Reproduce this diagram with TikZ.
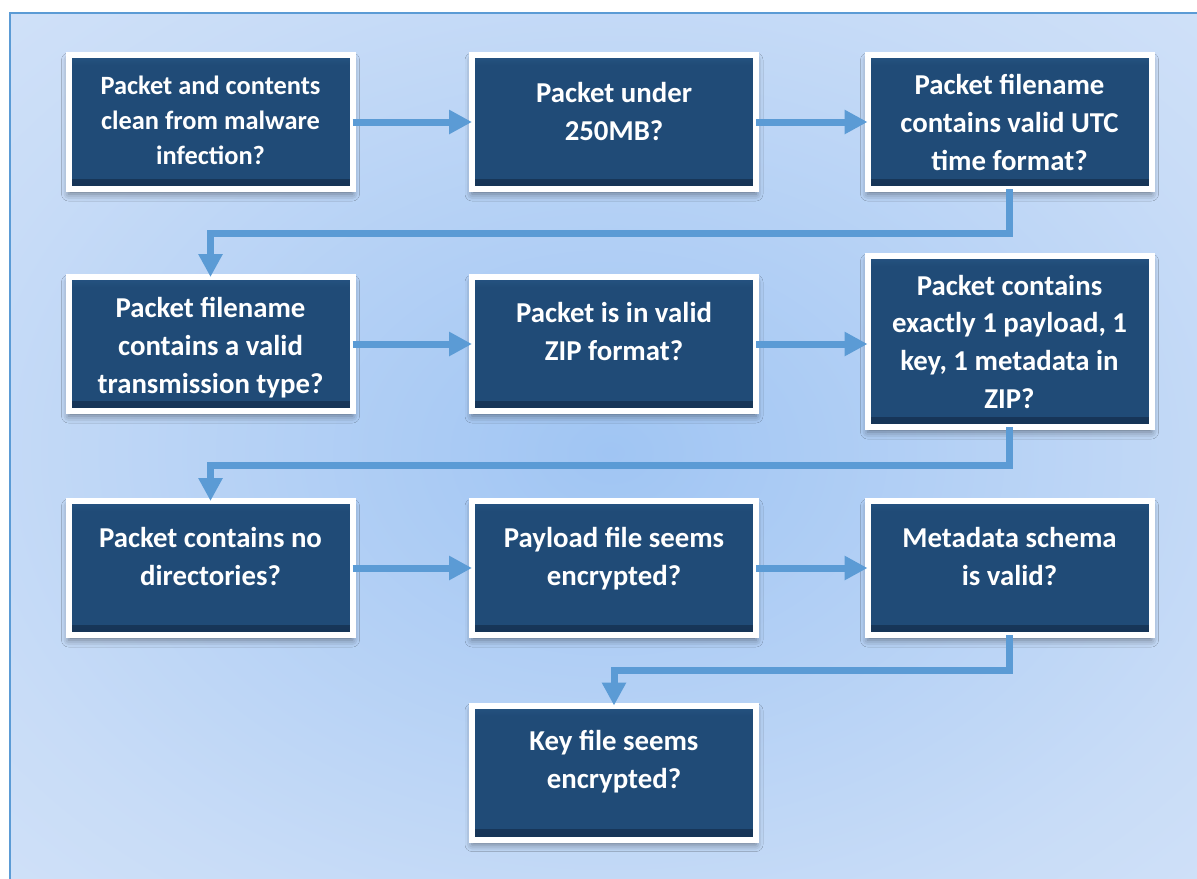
\documentclass[tikz,border=0pt]{standalone}
\usepackage{fontspec}
\setmainfont{Carlito}
\usetikzlibrary{arrows.meta,shadows.blur}

\definecolor{framecol}{RGB}{91,155,213}
\definecolor{flowcol}{RGB}{91,155,213}
\definecolor{boxfill}{RGB}{32,75,119}
\definecolor{boxtop}{RGB}{38,84,130}
\definecolor{boxedge}{RGB}{22,52,86}
\definecolor{bgmid}{RGB}{160,197,243}
\definecolor{bgring}{RGB}{200,220,247}
\definecolor{bgedge}{RGB}{222,233,250}

% soft blue glow behind the chart
\pgfdeclareradialshading{bgglow}{\pgfpoint{0bp}{0bp}}{%
  color(0bp)=(bgmid); color(28bp)=(bgring); color(50bp)=(bgedge); color(75bp)=(bgedge)}

\tikzset{
  stepbox/.style={rectangle, draw=white, line width=3pt, fill=boxfill,
    outer sep=0pt, inner sep=0pt,
    minimum width=142pt, minimum height=67pt,
    blur shadow={shadow xshift=0pt, shadow yshift=-2.5pt,
      shadow blur radius=3.5pt, shadow opacity=45},
    path picture={
      \shade[top color=boxfill, bottom color=boxedge]
        ([yshift=5pt]path picture bounding box.south west)
        rectangle (path picture bounding box.south east);
      \shade[top color=boxtop, bottom color=boxfill]
        (path picture bounding box.north west)
        rectangle ([yshift=-5pt]path picture bounding box.north east);
    }},
  steptext/.style={text=white, align=center, anchor=base, inner sep=0pt,
    font=\bfseries\fontsize{14.4}{18.8}\selectfont},
  flow/.style={draw=flowcol, line width=3.5pt,
    -{Triangle[length=11.5pt,width=11.5pt]}},
}

\begin{document}
\begin{tikzpicture}[x=0.5pt,y=-0.5pt]
\useasboundingbox (0,0) rectangle (1197,878);
\fill[white] (0,0) rectangle (1197,878);
\clip (0,0) rectangle (1197,878);

% framed background panel
\shade[shading=bgglow] (10,13) rectangle (1210,892);
\draw[framecol, line width=1.2pt] (10,13) rectangle (1210,892);

% process steps
\node[stepbox] (b1) at (210.5,122) {};
\node[stepbox] (b2) at (614,122) {};
\node[stepbox] (b3) at (1009.5,122) {};
\node[stepbox] (b4) at (210.5,344) {};
\node[stepbox] (b5) at (614,344) {};
\node[stepbox, minimum height=85.5pt] (b6) at (1009.5,341.5) {};
\node[stepbox] (b7) at (210.5,568) {};
\node[stepbox] (b8) at (614,568) {};
\node[stepbox] (b9) at (1009.5,568) {};
\node[stepbox] (b10) at (614,772.5) {};

% step captions (placed by the baseline of their last line)
\node[steptext, font=\bfseries\fontsize{13.2}{17.5}\selectfont] (t1) at (210.5,164)
  {Packet and contents\\clean from malware\\infection?};
\node[steptext] (t2) at (614,140) {Packet under\\250MB?};
\node[steptext] (t3) at (1009.5,170)
  {Packet filename\\contains valid UTC\\time format?};
\node[steptext] (t4) at (210.5,393)
  {Packet filename\\contains a valid\\transmission type?};
\node[steptext] (t5) at (614,360) {Packet is in valid\\ZIP format?};
\node[steptext] (t6) at (1009.5,408)
  {Packet contains\\exactly 1 payload, 1\\key, 1 metadata in\\ZIP?};
\node[steptext] (t7) at (210.5,585) {Packet contains no\\directories?};
\node[steptext] (t8) at (614,585) {Payload file seems\\encrypted?};
\node[steptext] (t9) at (1009.5,585) {Metadata schema\\is valid?};
\node[steptext] (t10) at (614,788) {Key file seems\\encrypted?};

% bends of the row-to-row connectors
\coordinate (r1) at (0,233);
\coordinate (r2) at (0,465);
\coordinate (r3) at (0,670);

% connectors
\draw[flow] (b1.east) -- (b2.west);
\draw[flow] (b2.east) -- (b3.west);
\draw[flow] (b3.south) -- (b3.south |- r1) -| (b4.north);
\draw[flow] (b4.east) -- (b5.west);
\draw[flow] (b5.east) -- (b5.east -| b6.west);
\draw[flow] (b6.south) -- (b6.south |- r2) -| (b7.north);
\draw[flow] (b7.east) -- (b8.west);
\draw[flow] (b8.east) -- (b9.west);
\draw[flow] (b9.south) -- (b9.south |- r3) -| (b10.north);
\end{tikzpicture}
\end{document}
